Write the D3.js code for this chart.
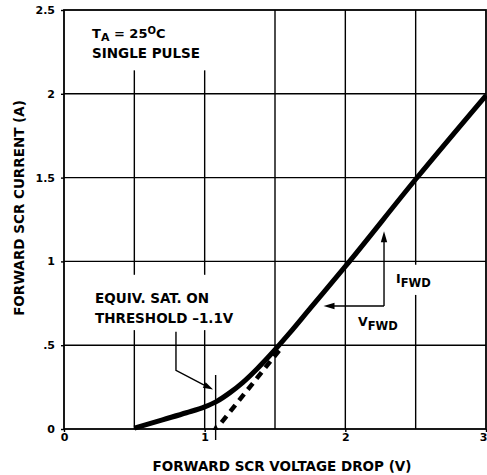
<!DOCTYPE html>
<html>
<head>
<meta charset="utf-8">
<script src="https://cdn.jsdelivr.net/npm/d3@7"></script>
<style>
  html, body { margin: 0; padding: 0; background: #fff; }
  svg { display: block; }
  text { font-family: "DejaVu Sans", "Liberation Sans", Arial, sans-serif; font-weight: bold; fill: #000; }
</style>
</head>
<body>
<svg id="chart" width="487" height="475"></svg>
<script>
// ---- data ----
const curveX = [0.5, 0.7, 0.87, 1.0, 1.08, 1.18, 1.27, 1.37, 1.5, 1.6, 1.75, 2.0, 2.5, 3.0];
const curveY = [0.005, 0.055, 0.097, 0.132, 0.162, 0.217, 0.277, 0.357, 0.473, 0.569, 0.72, 0.97, 1.49, 1.99];
const tangentX = [1.12, 1.55];
const tangentY = [0.04, 0.49];
const xTicks = [0, 1, 2, 3];
const xTickLabels = ["0", "1", "2", "3"];
const yTicks = [0, 0.5, 1, 1.5, 2, 2.5];
const yTickLabels = ["0", ".5", "1", "1.5", "2", "2.5"];
const xGrid = [0.5, 1, 1.5, 2, 2.5];
const yGrid = [0.5, 1, 1.5, 2];
const thresholdV = 1.078;

// ---- layout ----
const svg = d3.select("#chart");
const x = d3.scaleLinear().domain([0, 3]).range([64, 486]);
const y = d3.scaleLinear().domain([0, 2.5]).range([429, 10]);

// gaps in gridlines where text sits (data coords, y-ranges)
const vGridSegments = {
  0.5: [[0, 0.59], [0.92, 2.14]],
  1:   [[0, 0.59], [0.92, 2.14]],
  1.5: [[0, 2.5]],
  2:   [[0, 2.5]],
  2.5: [[0, 0.80], [0.98, 2.5]]
};

const g = svg.append("g");

// vertical grid
xGrid.forEach(v => {
  vGridSegments[v].forEach(seg => {
    g.append("line")
      .attr("x1", x(v)).attr("x2", x(v))
      .attr("y1", y(seg[0])).attr("y2", y(seg[1]))
      .attr("stroke", "#000").attr("stroke-width", 1.4);
  });
});
// horizontal grid
yGrid.forEach(v => {
  g.append("line")
    .attr("x1", x(0)).attr("x2", x(3))
    .attr("y1", y(v)).attr("y2", y(v))
    .attr("stroke", "#000").attr("stroke-width", 1.4);
});

// frame
g.append("rect")
  .attr("x", x(0)).attr("y", y(2.5))
  .attr("width", x(3) - x(0)).attr("height", y(0) - y(2.5))
  .attr("fill", "none").attr("stroke", "#000").attr("stroke-width", 1.8);

// axes
const xAxis = d3.axisBottom(x).tickValues(xTicks).tickFormat((d, i) => xTickLabels[i]).tickSize(3).tickPadding(1);
const yAxis = d3.axisLeft(y).tickValues(yTicks).tickFormat((d, i) => yTickLabels[i]).tickSize(3).tickPadding(6);
const xa = svg.append("g").attr("transform", `translate(0,${y(0)})`).call(xAxis);
const ya = svg.append("g").attr("transform", `translate(${x(0)},0)`).call(yAxis);
[xa, ya].forEach(a => {
  a.select(".domain").remove();
  a.selectAll("line").attr("stroke", "#000").attr("stroke-width", 1.4);
  a.selectAll("text").attr("font-size", 11).attr("font-family", null).attr("fill", "#000");
});
// keep the last x label inside the window
xa.selectAll(".tick text").filter(d => d === 3).attr("text-anchor", "end").attr("dx", 1);

// axis titles
svg.append("text")
  .attr("x", 282).attr("y", 471)
  .attr("text-anchor", "middle").attr("font-size", 13.5)
  .text("FORWARD SCR VOLTAGE DROP (V)");
svg.append("text")
  .attr("transform", `translate(24,208) rotate(-90)`)
  .attr("text-anchor", "middle").attr("font-size", 13.5)
  .text("FORWARD SCR CURRENT (A)");

// tangent (dashed)
const line = d3.line().x(d => x(d[0])).y(d => y(d[1]));
g.append("path")
  .datum(tangentX.map((v, i) => [v, tangentY[i]]))
  .attr("d", line)
  .attr("fill", "none").attr("stroke", "#000").attr("stroke-width", 4.5)
  .attr("stroke-dasharray", "8,6");

// main curve
g.append("path")
  .datum(curveX.map((v, i) => [v, curveY[i]]))
  .attr("d", d3.line().x(d => x(d[0])).y(d => y(d[1])).curve(d3.curveMonotoneX))
  .attr("fill", "none").attr("stroke", "#000").attr("stroke-width", 5)
  .attr("stroke-linejoin", "round");

// threshold marker
g.append("line")
  .attr("x1", x(thresholdV)).attr("x2", x(thresholdV))
  .attr("y1", 375).attr("y2", 440)
  .attr("stroke", "#000").attr("stroke-width", 1.4);
g.append("path")
  .attr("d", `M${x(thresholdV)},${y(0) - 5} l-3,6 l6,0 z`)
  .attr("fill", "#000");

// arrowhead helper
function arrowHead(tipX, tipY, fromX, fromY, len, half) {
  const ang = Math.atan2(tipY - fromY, tipX - fromX);
  const bx = tipX - len * Math.cos(ang), by = tipY - len * Math.sin(ang);
  const px = -Math.sin(ang) * half, py = Math.cos(ang) * half;
  return `M${tipX},${tipY}L${bx + px},${by + py}L${bx - px},${by - py}Z`;
}

// EQUIV SAT ON annotation
const a1 = [[0.796, 0.58], [0.796, 0.35], [1.06, 0.235]];
g.append("path")
  .attr("d", d3.line().x(d => x(d[0])).y(d => y(d[1]))(a1.slice(0, 2).concat([[1.0, 0.261]])))
  .attr("fill", "none").attr("stroke", "#000").attr("stroke-width", 1.4);
g.append("path")
  .attr("d", arrowHead(x(a1[2][0]), y(a1[2][1]), x(a1[1][0]), y(a1[1][1]), 10, 3.2))
  .attr("fill", "#000");

// IFWD / VFWD annotation
const aI = [2.275, 0.734];
g.append("line")
  .attr("x1", x(aI[0])).attr("x2", x(aI[0]))
  .attr("y1", y(aI[1])).attr("y2", y(1.12))
  .attr("stroke", "#000").attr("stroke-width", 1.4);
g.append("path").attr("d", arrowHead(x(aI[0]), y(1.18), x(aI[0]), y(aI[1]), 11, 3.2)).attr("fill", "#000");
g.append("line")
  .attr("x1", x(aI[0])).attr("x2", x(1.91))
  .attr("y1", y(aI[1])).attr("y2", y(aI[1]))
  .attr("stroke", "#000").attr("stroke-width", 1.4);
g.append("path").attr("d", arrowHead(x(1.845), y(aI[1]), x(aI[0]), y(aI[1]), 11, 3.2)).attr("fill", "#000");

// labels
function subLabel(px, py, main, sub, size) {
  const t = svg.append("text").attr("x", px).attr("y", py).attr("font-size", size);
  t.append("tspan").text(main);
  t.append("tspan").attr("dy", 4).attr("font-size", size * 0.92).text(sub);
  return t;
}
subLabel(396, 283, "I", "FWD", 12.5);
subLabel(358, 326, "V", "FWD", 12.5);

const tA = svg.append("text").attr("x", 92).attr("y", 38).attr("font-size", 13);
tA.append("tspan").text("T");
tA.append("tspan").attr("dy", 3).attr("font-size", 11).text("A");
tA.append("tspan").attr("dy", -3).text(" = 25");
tA.append("tspan").attr("dy", -4).attr("font-size", 10).text("O");
tA.append("tspan").attr("dy", 4).text("C");
svg.append("text").attr("x", 92).attr("y", 58).attr("font-size", 13.5).text("SINGLE PULSE");

svg.append("text").attr("x", 95).attr("y", 303).attr("font-size", 13.5).text("EQUIV. SAT. ON");
svg.append("text").attr("x", 95).attr("y", 323).attr("font-size", 13.5).text("THRESHOLD \u20131.1V");
</script>
</body>
</html>
